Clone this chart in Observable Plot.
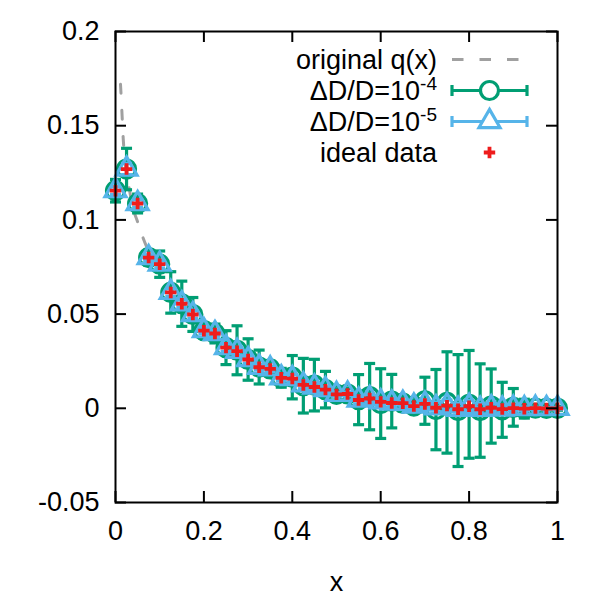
<!DOCTYPE html>
<html>
<head>
<meta charset="utf-8">
<script src="https://cdn.jsdelivr.net/npm/d3@7"></script>
<script src="https://cdn.jsdelivr.net/npm/@observablehq/plot@0.6"></script>
<style>
  html, body { margin: 0; padding: 0; background: #fff; }
  #wrap { position: relative; width: 600px; height: 600px; font-family: "Liberation Sans", Arial, sans-serif; }
  #legend { position: absolute; left: 0; top: 0; pointer-events: none; }
</style>
</head>
<body>
<div id="wrap"></div>
<script>
// ---- data ----
const xVals = [0,0.025,0.05,0.075,0.1,0.125,0.15,0.175,0.2,0.225,0.25,0.275,0.3,0.325,0.35,0.375,0.4,0.425,0.45,0.475,0.5,0.525,0.55,0.575,0.6,0.625,0.65,0.675,0.7,0.725,0.75,0.775,0.8,0.825,0.85,0.875,0.9,0.925,0.95,0.975,1];
const idealVals = [0.1155,0.127,0.1087,0.080,0.0765,0.0615,0.0555,0.0498,0.0412,0.0397,0.0322,0.0303,0.0259,0.0218,0.0209,0.0162,0.0158,0.0124,0.0113,0.0099,0.0074,0.0076,0.0044,0.0052,0.0034,0.0028,0.0027,0.0012,0.0023,0.0003,0.0014,-0.0005,0.0011,-0.0005,0.0003,-0.0004,0.0001,-0.0002,0.0001,-0.0001,0];
const g4Vals = [0.1155,0.127,0.1087,0.080,0.0765,0.0615,0.0555,0.0498,0.0412,0.0397,0.0322,0.0308,0.0259,0.0219,0.0209,0.0162,0.0165,0.0120,0.0123,0.0099,0.0074,0.0076,0.0046,0.0062,0.0025,0.0038,0.0027,0.0012,0.0040,-0.0007,0.0031,-0.0012,0.0021,-0.0012,0.0012,-0.0008,0.0005,-0.0002,0.0001,0,0];
const g4Err = [0.006,0.011,0.005,0.004,0.007,0.011,0.012,0.009,0.004,0.005,0.009,0.013,0.011,0.009,0.004,0.005,0.0115,0.0145,0.0137,0.0097,0.003,0.003,0.0133,0.0176,0.0185,0.0142,0.004,0.003,0.0125,0.0213,0.0269,0.0297,0.0286,0.0248,0.0197,0.0146,0.010,0.005,0.002,0.001,0.001];
const b5Vals = [0.1155,0.127,0.1087,0.080,0.0765,0.0615,0.0555,0.0498,0.0412,0.0397,0.0322,0.0303,0.0259,0.0218,0.0209,0.0162,0.0158,0.0124,0.0113,0.0099,0.0074,0.0076,0.0044,0.0052,0.0034,0.0028,0.0027,0.0012,0.0023,0.0003,0.0014,-0.0005,0.0011,-0.0005,0.0003,-0.0004,0.0001,-0.0002,0.0001,-0.0001,0];
const b5Err = [0.002,0.003,0.002,0.0015,0.002,0.002,0.002,0.002,0.0015,0.0015,0.002,0.002,0.002,0.0015,0.0015,0.0015,0.002,0.002,0.002,0.0015,0.001,0.001,0.002,0.002,0.002,0.002,0.001,0.001,0.002,0.003,0.003,0.003,0.003,0.003,0.002,0.002,0.0015,0.001,0.0005,0.0005,0.0005];
const qX = [0.0113,0.0125,0.015,0.0175,0.02,0.025,0.03,0.04,0.05,0.06,0.07,0.08,0.1,0.125,0.15,0.175,0.2,0.25,0.3,0.35,0.4,0.45,0.5,0.6,0.7,0.8,0.9,1.0];
const qY = [0.172,0.167,0.155,0.143,0.135,0.125,0.118,0.106,0.099,0.092,0.086,0.081,0.073,0.064,0.056,0.049,0.043,0.033,0.026,0.020,0.0155,0.012,0.009,0.005,0.0025,0.001,0.0004,0];
const xTicks = [0,0.2,0.4,0.6,0.8,1];
const xTickLabels = ["0","0.2","0.4","0.6","0.8","1"];
const yTicks = [-0.05,0,0.05,0.1,0.15,0.2];
const yTickLabels = ["-0.05","0","0.05","0.1","0.15","0.2"];
const seriesNames = ["original q(x)", "ΔD/D=10", "ΔD/D=10", "ideal data"];
const seriesSup = ["", "-4", "-5", ""];

// ---- colours ----
const GRAY = "#a0a0a0", GREEN = "#009e73", BLUE = "#56b4e9", RED = "#ee1c1c";

const g4 = xVals.map((x, i) => ({x, y: g4Vals[i], e: g4Err[i]}));
const b5 = xVals.map((x, i) => ({x, y: b5Vals[i], e: b5Err[i]}));
const ideal = xVals.map((x, i) => ({x, y: idealVals[i]}));
const orig = qX.map((x, i) => ({x, y: qY[i]}));

// horizontal cap symbol for error bars
const capSymbol = { draw(ctx, size) { const w = Math.sqrt(size / Math.PI); ctx.moveTo(-w, 0); ctx.lineTo(w, 0); } };

const W = 600, H = 600, ML = 115, MR = 43, MT = 31, MB = 98;
const innerW = W - ML - MR, innerH = H - MT - MB, TL = 11;
const FS = 27;

const chart = Plot.plot({
  width: W, height: H,
  marginLeft: ML, marginRight: MR, marginTop: MT, marginBottom: MB,
  style: { fontFamily: "'Liberation Sans', Arial, sans-serif", fontSize: FS + "px", color: "#000", background: "#fff" },
  x: { domain: [0, 1] },
  y: { domain: [-0.05, 0.2] },
  marks: [
    Plot.line(orig, { x: "x", y: "y", stroke: GRAY, strokeWidth: 3, strokeDasharray: "9,17", curve: "monotone-x" }),
    // dD/D = 1e-4
    Plot.ruleX(g4, { x: "x", y1: d => d.y - d.e, y2: d => d.y + d.e, stroke: GREEN, strokeWidth: 3.2 }),
    Plot.dot(g4, { x: "x", y: d => d.y - d.e, symbol: capSymbol, r: 5.5, stroke: GREEN, strokeWidth: 3.2, fill: "none" }),
    Plot.dot(g4, { x: "x", y: d => d.y + d.e, symbol: capSymbol, r: 5.5, stroke: GREEN, strokeWidth: 3.2, fill: "none" }),
    Plot.dot(g4, { x: "x", y: "y", r: 9, stroke: GREEN, strokeWidth: 3.2, fill: "none" }),
    // dD/D = 1e-5
    Plot.ruleX(b5, { x: "x", y1: d => d.y - d.e, y2: d => d.y + d.e, stroke: BLUE, strokeWidth: 3.2 }),
    Plot.dot(b5, { x: "x", y: d => d.y - d.e, symbol: capSymbol, r: 5.5, stroke: BLUE, strokeWidth: 3.2, fill: "none" }),
    Plot.dot(b5, { x: "x", y: d => d.y + d.e, symbol: capSymbol, r: 5.5, stroke: BLUE, strokeWidth: 3.2, fill: "none" }),
    Plot.dot(b5, { x: "x", y: "y", symbol: "triangle", r: 7.8, stroke: BLUE, strokeWidth: 3.2, fill: "none" }),
    // ideal data
    Plot.dot(ideal, { x: "x", y: "y", symbol: "cross", r: 4.8, fill: RED, stroke: "none" }),
    // frame and inward ticks (mirrored)
    Plot.frame({ stroke: "#000", strokeWidth: 2 }),
    Plot.tickX(xTicks, { x: d => d, insetTop: innerH - TL, stroke: "#000", strokeWidth: 2 }),
    Plot.tickX(xTicks, { x: d => d, insetBottom: innerH - TL, stroke: "#000", strokeWidth: 2 }),
    Plot.tickY(yTicks, { y: d => d, insetRight: innerW - TL, stroke: "#000", strokeWidth: 2 }),
    Plot.tickY(yTicks, { y: d => d, insetLeft: innerW - TL, stroke: "#000", strokeWidth: 2 }),
    Plot.axisX(xTicks, { tickSize: 0, tickPadding: 18, tickFormat: d => xTickLabels[xTicks.indexOf(d)], label: "x", labelAnchor: "center", labelOffset: 88, labelArrow: "none" }),
    Plot.axisY(yTicks, { tickSize: 0, tickPadding: 16, tickFormat: d => yTickLabels[yTicks.indexOf(d)], label: null })
  ]
});
document.getElementById("wrap").appendChild(chart);

// ---- legend (overlay inside the plot frame, top right) ----
const leg = d3.select("#wrap").append("svg").attr("id", "legend").attr("width", W).attr("height", H)
  .style("font-family", "'Liberation Sans', Arial, sans-serif");
const rowY = [59.5, 90.5, 121.5, 152.5];
const textRight = 437, sx1 = 452, sx2 = 527, sm = 489.5;
seriesNames.forEach((name, i) => {
  const t = leg.append("text").attr("x", textRight).attr("y", rowY[i] + 9.5).attr("text-anchor", "end")
    .attr("font-size", FS).attr("fill", "#000");
  t.append("tspan").text(name);
  if (seriesSup[i]) t.append("tspan").attr("dy", -10).attr("font-size", 19).text(seriesSup[i]);
});
// original q(x)
leg.append("line").attr("x1", sx1).attr("x2", sx2).attr("y1", rowY[0]).attr("y2", rowY[0])
  .attr("stroke", GRAY).attr("stroke-width", 3).attr("stroke-dasharray", "11.5,16");
// error-bar samples
[[GREEN, 1], [BLUE, 2]].forEach(([c, i]) => {
  const y = rowY[i];
  leg.append("line").attr("x1", sx1).attr("x2", sx2).attr("y1", y).attr("y2", y).attr("stroke", c).attr("stroke-width", 3.2);
  leg.append("line").attr("x1", sx1).attr("x2", sx1).attr("y1", y - 5.5).attr("y2", y + 5.5).attr("stroke", c).attr("stroke-width", 3.2);
  leg.append("line").attr("x1", sx2).attr("x2", sx2).attr("y1", y - 5.5).attr("y2", y + 5.5).attr("stroke", c).attr("stroke-width", 3.2);
});
leg.append("circle").attr("cx", sm).attr("cy", rowY[1]).attr("r", 9).attr("fill", "#fff").attr("stroke", GREEN).attr("stroke-width", 3.2);
leg.append("path").attr("d", d3.symbol(d3.symbolTriangle, Math.PI * 7.8 * 7.8)()).attr("transform", `translate(${sm},${rowY[2]})`)
  .attr("fill", "#fff").attr("stroke", BLUE).attr("stroke-width", 3.2);
leg.append("path").attr("d", d3.symbol(d3.symbolCross, Math.PI * 4.8 * 4.8)()).attr("transform", `translate(${sm},${rowY[3]})`)
  .attr("fill", RED);
</script>
</body>
</html>
